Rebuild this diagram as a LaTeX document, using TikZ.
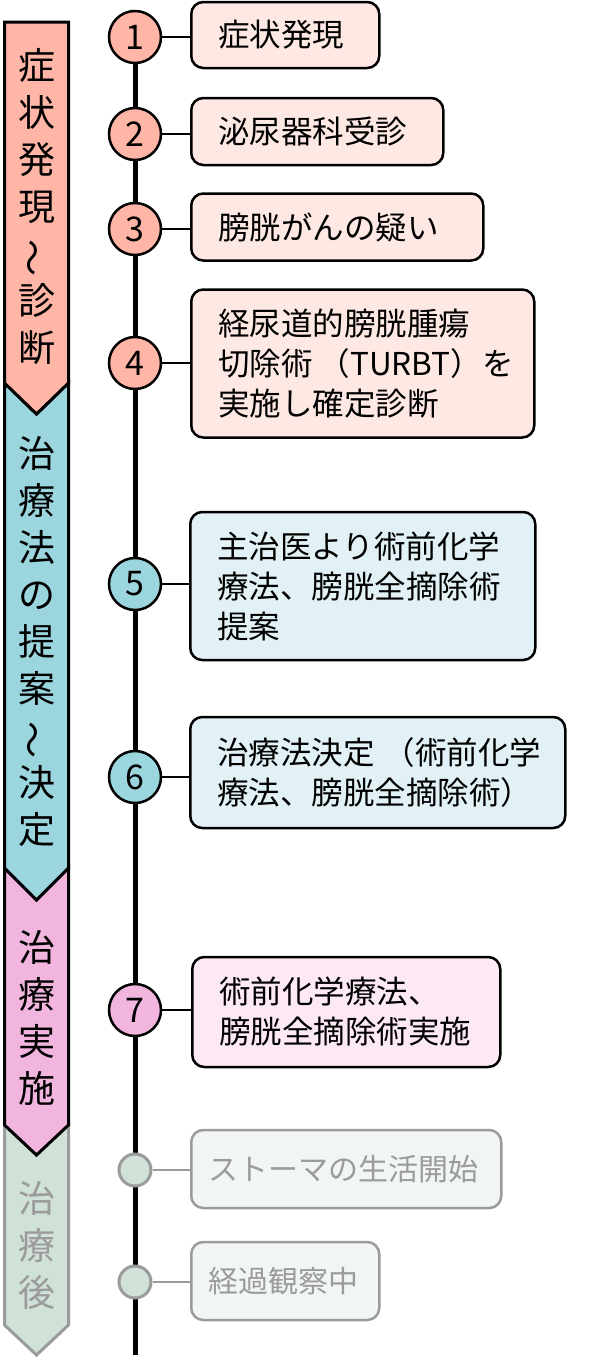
\documentclass[tikz,border=0pt]{standalone}
\usepackage{fontspec}
\setmainfont{Noto Sans CJK JP}
\usepackage{graphicx}
\definecolor{salmon}{HTML}{FFB6A6}
\definecolor{salmonL}{HTML}{FDE8E3}
\definecolor{cyanD}{HTML}{9BD6DF}
\definecolor{cyanL}{HTML}{E1F1F5}
\definecolor{pinkD}{HTML}{F1B5DE}
\definecolor{pinkL}{HTML}{FCE9F5}
\definecolor{greenD}{HTML}{D0E1D7}
\definecolor{greenL}{HTML}{F1F6F3}
\definecolor{grayB}{HTML}{9B9B9B}
\newcommand{\vwave}{\rotatebox[origin=c]{90}{～}}
\tikzset{
  band/.style={line width=3pt, line join=miter},
  bandtext/.style={align=center, font=\fontsize{37}{47}\selectfont, inner sep=0pt},
  evbox/.style={draw, line width=2.5pt, rounded corners=12pt, anchor=west, inner xsep=27pt, inner ysep=0pt, align=left, font=\fontsize{31.5}{40}\selectfont},
  graybox/.style={evbox, draw=grayB, text=grayB, fill=greenL, inner xsep=17pt, font=\fontsize{30}{40}\selectfont},
  num/.style={circle, draw, line width=2.5pt, minimum size=52pt, inner sep=0pt, font=\fontsize{34}{34}\selectfont},
  dot/.style={circle, draw=grayB, line width=3pt, minimum size=32pt, inner sep=0pt, fill=greenD},
  link/.style={line width=2pt},
}
\begin{document}
\begin{tikzpicture}[x=1pt,y=-1pt]
\useasboundingbox (0,0) rectangle (593,1360);
% banner sections (drawn bottom-up)
\draw[band, draw=grayB, fill=greenD] (4.5,1125) -- (36.5,1155) -- (68.5,1125) -- (68.5,1325) -- (36.5,1355) -- (4.5,1325) -- cycle;
\draw[band, fill=pinkD] (4.5,868) -- (36.5,900) -- (68.5,868) -- (68.5,1125) -- (36.5,1155) -- (4.5,1125) -- cycle;
\draw[band, fill=cyanD] (4.5,383) -- (36.5,414) -- (68.5,383) -- (68.5,868) -- (36.5,900) -- (4.5,868) -- cycle;
\draw[band, fill=salmon] (4.5,22) -- (68.5,22) -- (68.5,383) -- (36.5,414) -- (4.5,383) -- cycle;
\node[bandtext] (s1) at (36.5,207) {症\\状\\発\\現\\\vwave\\診\\断};
\node[bandtext] (s2) at (36.5,641.5) {治\\療\\法\\の\\提\\案\\\vwave\\決\\定};
\node[bandtext] (s3) at (36.5,1017.5) {治\\療\\実\\施};
\node[bandtext, text=grayB] (s4) at (36.5,1245) {治\\療\\後};
% timeline
\coordinate (tend) at (135,1355);
\coordinate (tstart) at (135,37);
\draw[line width=5pt] (tstart) -- (tend);
% circles
\node[num, fill=salmon] (c1) at (135,37) {1};
\node[num, fill=salmon] (c2) at (135,134) {2};
\node[num, fill=salmon] (c3) at (135,229) {3};
\node[num, fill=salmon] (c4) at (135,363) {4};
\node[num, fill=cyanD] (c5) at (135,584) {5};
\node[num, fill=cyanD] (c6) at (135,777) {6};
\node[num, fill=pinkD] (c7) at (135,1010) {7};
\node[dot] (c8) at (135,1170) {};
\node[dot] (c9) at (135,1282) {};
% boxes
\node[evbox, fill=salmonL, text width=134pt, minimum height=66pt] (b1) at (190,35) {\mbox{症状発現}};
\node[evbox, fill=salmonL, text width=198pt, minimum height=67pt] (b2) at (190,131.5) {\mbox{泌尿器科受診}};
\node[evbox, fill=salmonL, text width=238pt, minimum height=67pt] (b3) at (190,227) {\mbox{膀胱がんの疑い}};
\node[evbox, fill=salmonL, text width=289pt, minimum height=148pt] (b4) at (190,363.5) {\mbox{経尿道的膀胱腫瘍}\\\mbox{切除術\hspace{6pt}（TURBT）を}\\\mbox{実施し確定診断}};
\node[evbox, fill=cyanL, text width=291pt, minimum height=148pt] (b5) at (189,586) {\mbox{主治医より術前化学}\\\mbox{療法、膀胱全摘除術}\\\mbox{提案}};
\node[evbox, fill=cyanL, text width=321pt, minimum height=111pt] (b6) at (189,772.5) {\mbox{治療法決定\hspace{9pt}（術前化学}\\\mbox{療法、膀胱全摘除術）}};
\node[evbox, fill=pinkL, text width=254pt, minimum height=110pt] (b7) at (191,1012) {\mbox{術前化学療法、}\\\mbox{膀胱全摘除術実施}};
\node[graybox, text width=276pt, minimum height=78pt] (b8) at (190,1169) {\mbox{ストーマの生活開始}};
\node[graybox, text width=154pt, minimum height=78pt] (b9) at (190,1281) {\mbox{経過観察中}};
% connectors
\foreach \i in {1,...,7} {\draw[link] (c\i.east) -- (c\i.east -| b\i.west);}
\foreach \i in {8,9} {\draw[link, draw=grayB] (c\i.east) -- (c\i.east -| b\i.west);}
\end{tikzpicture}
\end{document}
